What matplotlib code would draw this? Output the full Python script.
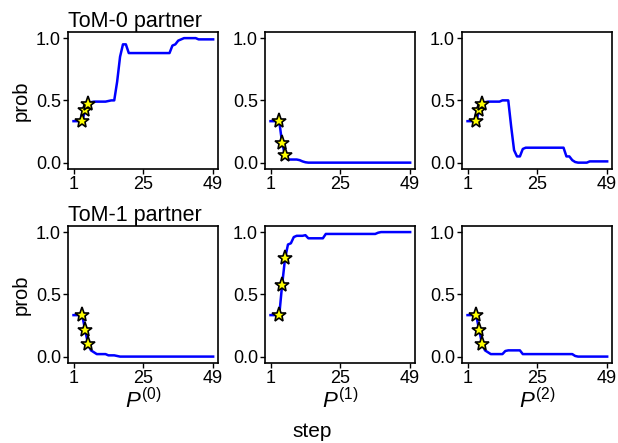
import numpy as np
import matplotlib
matplotlib.use("Agg")
import matplotlib.pyplot as plt

plt.rcParams['font.family'] = ['Liberation Sans', 'DejaVu Sans']
plt.rcParams['mathtext.fontset'] = 'custom'
plt.rcParams['mathtext.rm'] = 'Liberation Sans'
plt.rcParams['mathtext.it'] = 'Liberation Sans:italic'

# Steps 1..49
steps = np.arange(1, 50)

# ToM-0 partner
tom0_p0 = [0.333, 0.333, 0.333, 0.333, 0.42, 0.47, 0.485, 0.49, 0.49, 0.49,
           0.49, 0.49, 0.495, 0.5, 0.5, 0.65, 0.85, 0.95, 0.95, 0.88,
           0.88, 0.88, 0.88, 0.88, 0.88, 0.88, 0.88, 0.88, 0.88, 0.88,
           0.88, 0.88, 0.88, 0.88, 0.94, 0.95, 0.98, 0.99, 1.0, 1.0,
           1.0, 1.0, 1.0, 0.99, 0.99, 0.99, 0.99, 0.99, 0.99]
tom0_p1 = [0.333, 0.333, 0.333, 0.333, 0.155, 0.06, 0.025, 0.025, 0.025, 0.025,
           0.02, 0.01, 0.003] + [0.0] * 36
tom0_p2 = [0.333, 0.333, 0.333, 0.333, 0.42, 0.47, 0.485, 0.49, 0.49, 0.49,
           0.49, 0.49, 0.5, 0.5, 0.5, 0.29, 0.1, 0.05, 0.05, 0.11,
           0.12, 0.12, 0.12, 0.12, 0.12, 0.12, 0.12, 0.12, 0.12, 0.12,
           0.12, 0.12, 0.12, 0.12, 0.05, 0.05, 0.02, 0.005, 0.0, 0.0,
           0.0, 0.0, 0.01, 0.01, 0.01, 0.01, 0.01, 0.01, 0.01]

# ToM-1 partner
tom1_p0 = [0.333, 0.333, 0.333, 0.333, 0.211, 0.104, 0.05, 0.035, 0.02, 0.02,
           0.02, 0.02, 0.01, 0.01, 0.01, 0.005] + [0.0] * 33
tom1_p1 = [0.333, 0.333, 0.333, 0.333, 0.578, 0.789, 0.9, 0.91, 0.96, 0.97,
           0.97, 0.97, 0.975, 0.95, 0.95, 0.95, 0.95, 0.95, 0.95, 0.985,
           0.985, 0.985, 0.985, 0.985, 0.985, 0.985, 0.985, 0.985, 0.985, 0.985,
           0.985, 0.985, 0.985, 0.985, 0.985, 0.985, 0.985, 0.995, 1.0, 1.0,
           1.0, 1.0, 1.0, 1.0, 1.0, 1.0, 1.0, 1.0, 1.0]
tom1_p2 = [0.333, 0.333, 0.333, 0.333, 0.211, 0.104, 0.05, 0.035, 0.02, 0.02,
           0.02, 0.02, 0.02, 0.045, 0.05, 0.05, 0.05, 0.05, 0.05, 0.02,
           0.02, 0.02, 0.02, 0.02, 0.02, 0.02, 0.02, 0.02, 0.02, 0.02,
           0.02, 0.02, 0.02, 0.02, 0.02, 0.02, 0.02, 0.005, 0.0, 0.0,
           0.0, 0.0, 0.0, 0.0, 0.0, 0.0, 0.0, 0.0, 0.0]

rows = [[tom0_p0, tom0_p1, tom0_p2], [tom1_p0, tom1_p1, tom1_p2]]
row_titles = ["ToM-0 partner", "ToM-1 partner"]
col_labels = ["$P^{(0)}$", "$P^{(1)}$", "$P^{(2)}$"]
star_idx = slice(3, 6)

fig, axes = plt.subplots(2, 3, figsize=(6.18, 4.43), dpi=100)
fig.subplots_adjust(left=0.110, right=0.990, top=0.928, bottom=0.181,
                    wspace=0.315, hspace=0.416)

for r in range(2):
    for c in range(3):
        ax = axes[r, c]
        vals = np.array(rows[r][c])
        ax.plot(steps, vals, color='blue', lw=1.8)
        ax.plot(steps[star_idx], vals[star_idx], '*', color='yellow',
                markeredgecolor='black', markersize=11, mew=1.2)
        ax.set_xlim(-0.9, 50.6)
        ax.set_ylim(-0.05, 1.05)
        ax.set_xticks([1, 25, 49])
        ax.set_yticks([0.0, 0.5, 1.0])
        ax.set_yticklabels(["0.0", "0.5", "1.0"])
        ax.tick_params(labelsize=13, length=3.5, width=1.0, pad=1.5)
        for s in ax.spines.values():
            s.set_linewidth(1.2)
        if c == 0:
            ax.set_ylabel("prob", fontsize=14.5, labelpad=4)
            ax.set_title(row_titles[r], loc='left', fontsize=15.5, pad=1)
        if r == 1:
            ax.set_xlabel(col_labels[c], fontsize=16, labelpad=1)

fig.text(0.505, 0.025, "step", ha='center', va='center', fontsize=15)

fig.savefig("out.png", dpi=100)
